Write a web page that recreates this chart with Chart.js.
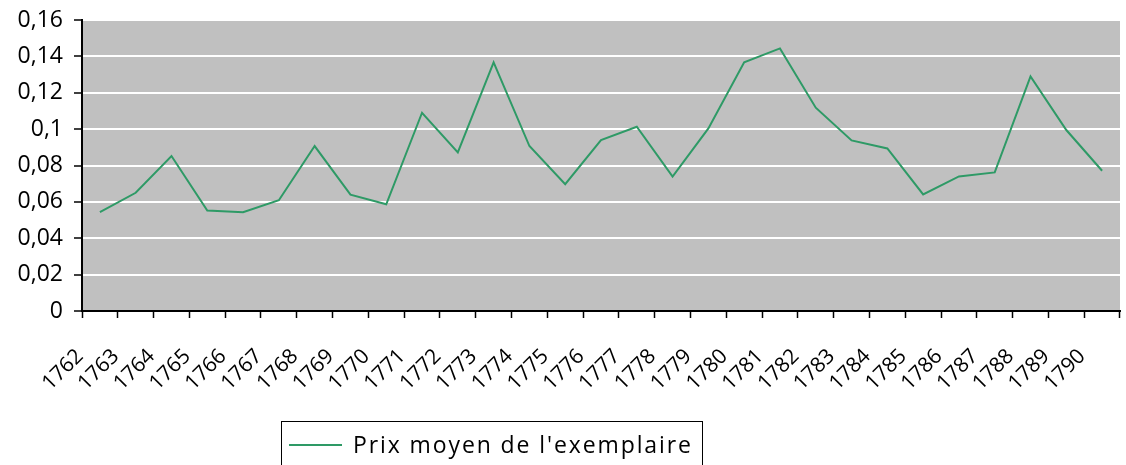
<!DOCTYPE html>
<html>
<head>
<meta charset="utf-8">
<script src="https://cdn.jsdelivr.net/npm/chart.js@4"></script>
<style>
  html, body { margin: 0; padding: 0; background: #fff; }
  #wrap { width: 1126px; height: 465px; }
</style>
</head>
<body>
<div id="wrap"><canvas id="myChart" width="1126" height="465"></canvas></div>
<script>
// data
const years = ['1762', '1763', '1764', '1765', '1766', '1767', '1768', '1769', '1770', '1771',
  '1772', '1773', '1774', '1775', '1776', '1777', '1778', '1779', '1780', '1781',
  '1782', '1783', '1784', '1785', '1786', '1787', '1788', '1789', '1790'];
const prixMoyen = [0.0543, 0.065, 0.0852, 0.0552, 0.0543, 0.0609, 0.0907, 0.064, 0.0587, 0.109,
  0.0872, 0.1367, 0.0907, 0.0697, 0.094, 0.1013, 0.0739, 0.1004, 0.1367, 0.1444,
  0.1118, 0.0938, 0.0894, 0.0641, 0.074, 0.0762, 0.129, 0.0995, 0.0771];
const yTicks = [0, 0.02, 0.04, 0.06, 0.08, 0.1, 0.12, 0.14, 0.16];
const seriesLabel = "Prix moyen de l'exemplaire";

const FONT = "'Open Sans', 'Noto Sans', sans-serif";
const ctx = document.getElementById('myChart');

// grey plot background
const plotBg = {
  id: 'plotBg',
  beforeDraw(chart) {
    const { ctx, chartArea: a } = chart;
    ctx.save();
    ctx.fillStyle = '#c0c0c0';
    ctx.fillRect(a.left, a.top, a.right - a.left, a.bottom - a.top);
    ctx.restore();
  }
};

// boxed legend like the spreadsheet one
const boxLegend = {
  id: 'boxLegend',
  afterDraw(chart) {
    const c = chart.ctx;
    const ds = chart.data.datasets[0];
    c.save();
    c.strokeStyle = '#000';
    c.lineWidth = 1;
    c.strokeRect(281.5, 421.5, 421, 60);
    c.strokeStyle = ds.borderColor;
    c.lineWidth = 2;
    c.beginPath();
    c.moveTo(289, 445);
    c.lineTo(342, 445);
    c.stroke();
    c.fillStyle = '#000';
    c.font = '23px ' + FONT;
    c.letterSpacing = '1.9px';
    c.textBaseline = 'middle';
    c.fillText(ds.label, 353, 446);
    c.restore();
  }
};

new Chart(ctx, {
  type: 'line',
  data: {
    labels: years,
    datasets: [
      {
        label: seriesLabel,
        data: prixMoyen,
        borderColor: '#2e9a66',
        borderWidth: 2,
        pointRadius: 0,
        tension: 0,
      },
    ],
  },
  options: {
    responsive: false,
    animation: false,
    layout: { padding: { top: 20, right: 6, bottom: 44, left: 0 } },
    plugins: {
      legend: { display: false },
      tooltip: { enabled: false },
    },
    scales: {
      x: {
        offset: true,
        afterFit: (s) => {
          s.height = 110;
          s.paddingLeft = 0;
          s.paddingRight = 0;
        },
        grid: {
          offset: true,
          drawOnChartArea: false,
          tickLength: 7,
          tickColor: '#000',
          tickWidth: 1.5,
        },
        border: { color: '#000', width: 2 },
        ticks: {
          autoSkip: false,
          maxRotation: 45,
          minRotation: 45,
          labelOffset: -20,
          padding: 26,
          color: '#000',
          font: { family: FONT, size: 21 },
        },
      },
      y: {
        min: 0,
        max: 0.16,
        afterFit: (s) => {
          s.width = 82;
          s.paddingTop = 0;
          s.paddingBottom = 0;
        },
        afterBuildTicks: (s) => { s.ticks = yTicks.map((v) => ({ value: v })); },
        grid: {
          color: (c) => (c.tick && c.tick.value === 0 ? '#000' : '#ffffff'),
          lineWidth: 2,
          tickLength: 8,
          tickColor: '#000',
          tickWidth: 1.5,
        },
        border: { color: '#000', width: 2 },
        ticks: {
          padding: 11,
          color: '#000',
          font: { family: FONT, size: 23 },
          callback: (v) => String(+Number(v).toFixed(2)).replace('.', ','),
        },
      },
    },
  },
  plugins: [plotBg, boxLegend],
});
</script>
</body>
</html>
